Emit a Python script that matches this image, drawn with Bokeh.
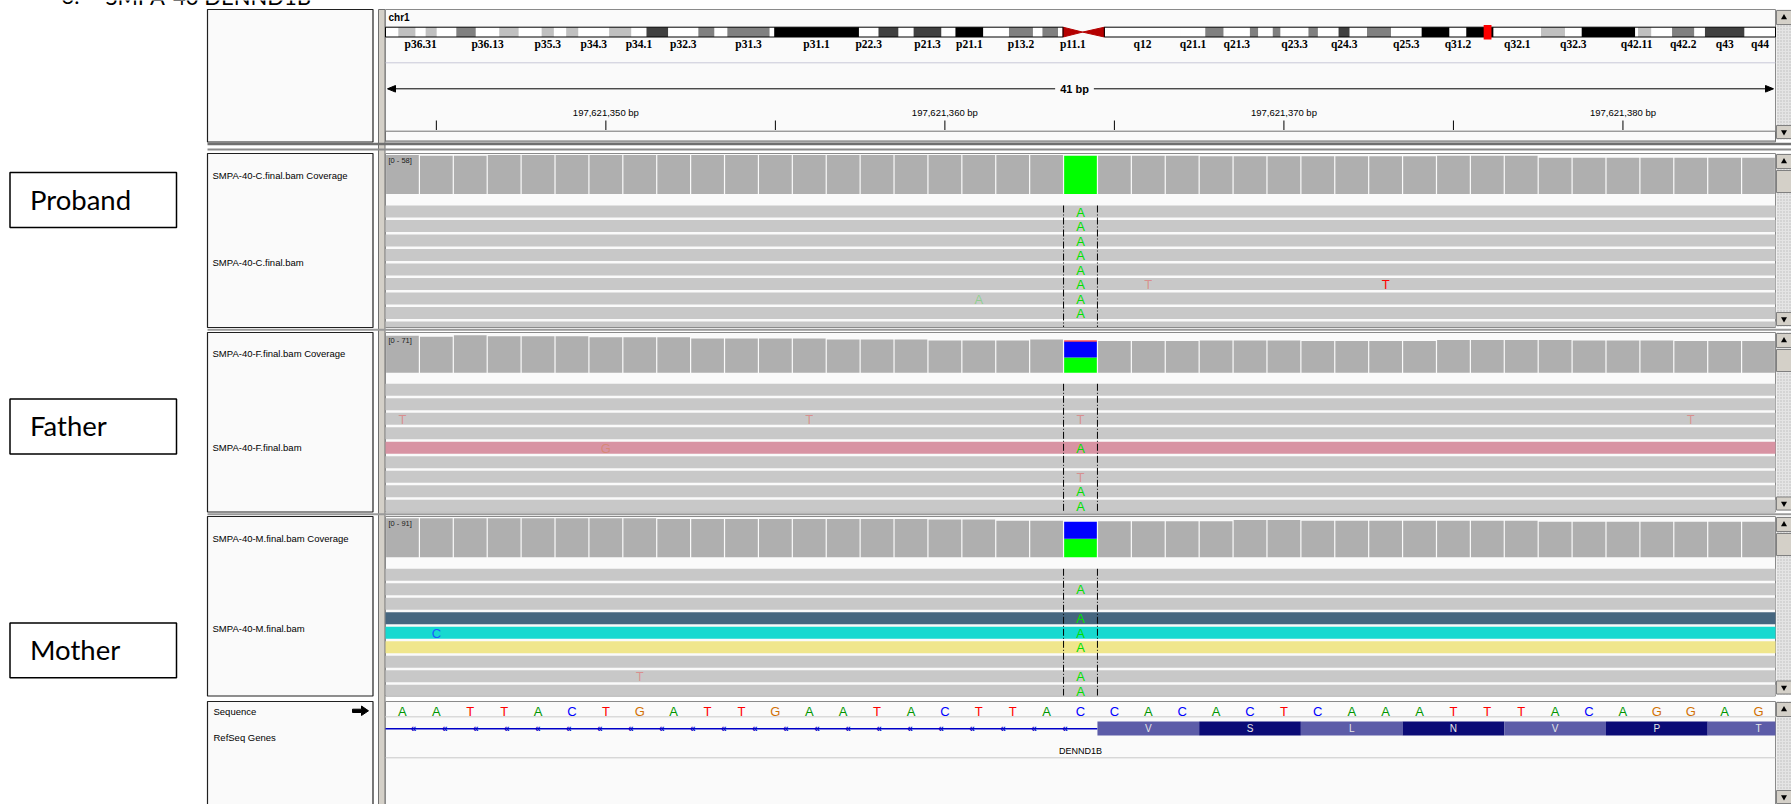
import numpy as np
from bokeh.plotting import figure
from bokeh.models import Range1d, Label
from bokeh.core.properties import value
from bokeh.embed import file_html
from bokeh.resources import INLINE

# ------------------------------------------------------------------ data
title_text = ["3.", "SMPA-40 DENND1B"]
chrom = "chr1"
chrom_length = 249250621
view_start = 197621344            # first base shown
view_bp = 41
sequence = ["A", "A", "T", "T", "A", "C", "T", "G", "A", "T", "T", "G", "A", "A", "T", "A", "C",
            "T", "T", "A", "C", "C", "A", "C", "A", "C", "T", "C", "A", "A", "A", "T", "T", "T",
            "A", "C", "A", "G", "G", "A", "G"]
variant_pos = 197621364
marker_pos = 197621364
tick_positions = [197621345, 197621350, 197621355, 197621360, 197621365, 197621370, 197621375, 197621380]
tick_labels = {197621350: "197,621,350 bp", 197621360: "197,621,360 bp",
               197621370: "197,621,370 bp", 197621380: "197,621,380 bp"}
ruler_text = "41 bp"

gene_name = "DENND1B"
cds_start = 197621365
amino_acids = ["V", "S", "L", "N", "V", "P", "T"]

sample_labels = ["Proband", "Father", "Mother"]
bam_names = ["SMPA-40-C.final.bam", "SMPA-40-F.final.bam", "SMPA-40-M.final.bam"]
cov_max = [58, 71, 91]
cov_proband = [58, 57, 57, 58, 58, 58, 58, 58, 58, 58, 58, 58, 58, 58, 58, 58, 58, 58, 58, 58, 57,
               57, 57, 57, 56, 56, 56, 56, 56, 56, 56, 57, 57, 57, 54, 54, 54, 54, 54, 54, 54]
cov_father = [70, 68, 71, 69, 69, 69, 67, 67, 67, 65, 65, 65, 65, 63, 63, 63, 61, 61, 61, 63, 61,
              60, 60, 60, 61, 61, 61, 60, 60, 60, 60, 62, 62, 62, 62, 61, 61, 61, 60, 60, 60]
cov_mother = [91, 91, 91, 91, 91, 91, 91, 91, 89, 89, 89, 89, 89, 89, 89, 89, 88, 88, 85, 85, 83,
              84, 84, 84, 84, 87, 87, 85, 85, 85, 85, 85, 85, 85, 83, 83, 83, 83, 83, 83, 83]
allele_order = ["A", "C", "T"]                      # stacked bottom -> top
variant_counts = [[57, 0, 0], [29, 30, 2], [43, 40, 0]]

# mismatches in reads: row index, base column (1-based), base, low quality
mm_proband_rows = [0, 1, 2, 3, 4, 5, 6, 7, 5, 5, 6]
mm_proband_cols = [21, 21, 21, 21, 21, 21, 21, 21, 23, 30, 18]
mm_proband_base = ["A", "A", "A", "A", "A", "A", "A", "A", "T", "T", "A"]
mm_proband_lowq = [0, 0, 0, 0, 0, 0, 0, 0, 1, 0, 1]
mm_father_rows = [2, 2, 2, 2, 4, 4, 6, 7, 8]
mm_father_cols = [1, 13, 21, 39, 7, 21, 21, 21, 21]
mm_father_base = ["T", "T", "T", "T", "G", "A", "T", "A", "A"]
mm_father_lowq = [1, 1, 1, 1, 1, 0, 1, 0, 0]
mm_mother_rows = [1, 3, 4, 4, 5, 7, 7, 8]
mm_mother_cols = [21, 21, 2, 21, 21, 8, 21, 21]
mm_mother_base = ["A", "A", "C", "A", "A", "T", "A", "A"]
mm_mother_lowq = [0, 0, 0, 0, 0, 1, 0, 0]
read_colors_father = {4: "#d893a3"}
read_colors_mother = {3: "#46667f", 4: "#17d9d0", 5: "#f0e68c"}

band_start = [0, 2300000, 5400000, 7200000, 9200000, 12700000, 16200000, 20400000, 23900000,
              28000000, 30200000, 32400000, 34600000, 40100000, 44100000, 46800000, 50700000,
              56100000, 59000000, 61300000, 68900000, 69700000, 84900000, 88400000, 92000000,
              94700000, 99700000, 102200000, 107200000, 111800000, 116100000, 117800000,
              120600000, 121500000, 125000000, 128900000, 142600000, 147000000, 150300000,
              155000000, 156500000, 159100000, 160500000, 165500000, 167200000, 170900000,
              172900000, 176000000, 180300000, 185800000, 190800000, 193800000, 198700000,
              207200000, 211500000, 214500000, 224100000, 224600000, 227000000, 230700000,
              234700000, 236600000, 243700000]
band_end = band_start[1:] + [chrom_length]
band_name = ["p36.33", "p36.32", "p36.31", "p36.23", "p36.22", "p36.21", "p36.13", "p36.12",
             "p36.11", "p35.3", "p35.2", "p35.1", "p34.3", "p34.2", "p34.1", "p33", "p32.3",
             "p32.2", "p32.1", "p31.3", "p31.2", "p31.1", "p22.3", "p22.2", "p22.1", "p21.3",
             "p21.2", "p21.1", "p13.3", "p13.2", "p13.1", "p12", "p11.2", "p11.1", "q11", "q12",
             "q21.1", "q21.2", "q21.3", "q22", "q23.1", "q23.2", "q23.3", "q24.1", "q24.2",
             "q24.3", "q25.1", "q25.2", "q25.3", "q31.1", "q31.2", "q31.3", "q32.1", "q32.2",
             "q32.3", "q41", "q42.11", "q42.12", "q42.13", "q42.2", "q42.3", "q43", "q44"]
band_stain = ["gneg", "gpos25", "gneg", "gpos25", "gneg", "gpos50", "gneg", "gpos25", "gneg",
              "gpos25", "gneg", "gpos25", "gneg", "gpos25", "gneg", "gpos75", "gneg", "gpos50",
              "gneg", "gpos50", "gneg", "gpos100", "gneg", "gpos75", "gneg", "gpos75", "gneg",
              "gpos100", "gneg", "gpos50", "gneg", "gpos50", "gneg", "acen", "acen", "gvar",
              "gneg", "gpos50", "gneg", "gpos50", "gneg", "gpos50", "gneg", "gpos50", "gneg",
              "gpos75", "gneg", "gpos50", "gneg", "gpos100", "gneg", "gpos100", "gneg", "gpos25",
              "gneg", "gpos100", "gneg", "gpos25", "gneg", "gpos50", "gneg", "gpos75", "gneg"]
shown_band_labels = ["p36.31", "p36.13", "p35.3", "p34.3", "p34.1", "p32.3", "p31.3", "p31.1",
                     "p22.3", "p21.3", "p21.1", "p13.2", "p11.1", "q12", "q21.1", "q21.3", "q23.3",
                     "q24.3", "q25.3", "q31.2", "q32.1", "q32.3", "q42.11", "q42.2", "q43", "q44"]

# ------------------------------------------------------------------ styling / layout
STAIN = {"gneg": "#ffffff", "gvar": "#ffffff", "gpos25": "#c0c0c0", "gpos50": "#808080",
         "gpos75": "#404040", "gpos100": "#000000"}
SEQ_COL = {"A": "#009600", "C": "#0000ff", "G": "#d17105", "T": "#ff0000"}
READ_COL = {"A": "#00e000", "C": "#1a5cff", "G": "#d17105", "T": "#ff0000"}
COV_COL = {"A": "#00ff00", "C": "#0000ff", "G": "#d17105", "T": "#ff0000"}
SANS = value("Liberation Sans")

W, H = 1791, 804
X0, X1, Y0, Y1 = 0, W, 0, H               # page coordinates covered by the figure
NX0, NX1 = 207, 372.5                     # name panel
DX0, DX1 = 385, 1775                      # data panel
SB0, SB1 = 1776, 1791                     # scrollbar

p = figure(width=W, height=H, x_range=Range1d(X0, X1), y_range=Range1d(Y1, Y0),
           output_backend="svg", toolbar_location=None, min_border=0,
           x_axis_location=None, y_axis_location=None)
p.grid.visible = False
p.outline_line_color = None
p.background_fill_color = "white"
p.border_fill_color = "white"

G0 = view_start - 0.5
G1 = view_start + view_bp - 0.5
bp_px = (DX1 - DX0) / (G1 - G0)
p.extra_x_ranges["g"] = Range1d(G0 - (DX0 - X0) / bp_px, G1 + (X1 - DX1) / bp_px)
chr_px = (DX1 - DX0) / chrom_length
p.extra_x_ranges["chr"] = Range1d(-(DX0 - X0) / chr_px, chrom_length + (X1 - DX1) / chr_px)


def scrollbar(top, bottom, thumb=True, up=True):
    p.quad(left=SB0, right=SB1, top=top, bottom=bottom, fill_color="#e4e4e4", line_color=None,
           hatch_pattern="dot", hatch_color="#bcbcbc", hatch_scale=3)
    if up:
        p.quad(left=SB0, right=SB1, top=top + 1, bottom=top + 15, fill_color="#d4d0c8",
               line_color="#808080")
        p.scatter([SB0 + 7.5], [top + 8], marker="triangle", size=6, fill_color="black",
                  line_color=None)
    if thumb:
        p.quad(left=SB0, right=SB1, top=top + 17, bottom=top + 39, fill_color="#d4d0c8",
               line_color="#808080")
    p.quad(left=SB0, right=SB1, top=bottom - 14, bottom=bottom - 1, fill_color="#d4d0c8",
           line_color="#808080")
    p.scatter([SB0 + 7.5], [bottom - 7.5], marker="inverted_triangle", size=6,
              fill_color="black", line_color=None)


def name_box(top, bottom):
    p.quad(left=NX0, right=NX1, top=top, bottom=bottom, fill_color="#fafafa",
           line_color="#202020", line_width=1.2)


def data_box(top, bottom):
    p.quad(left=DX0, right=DX1, top=top, bottom=bottom, fill_color="#fafafa",
           line_color="#8a8a8a", line_width=1)


# document heading, cut off by the top edge exactly as in the screenshot
p.text(x=[61, 105], y=[-4.5, -4.5], text=title_text, text_font=value("Lato"),
       text_font_size="22px", text_baseline="middle", text_color="black")

# divider between names and data
p.quad(left=373.5, right=377.5, top=9, bottom=804, fill_color="white", line_color=None)
p.quad(left=378, right=384.5, top=9, bottom=804, fill_color="#d4d0c8", line_color="#707070")

# ------------------------------------------------------------------ header (ideogram + ruler)
name_box(9, 141.5)
data_box(9, 141.5)
scrollbar(9, 139, thumb=False)
p.text(x=[DX0 + 3], y=[17], text=[chrom], text_font=SANS, text_font_size="10px",
       text_font_style="bold", text_baseline="middle", text_color="black")

IY0, IY1 = 26.7, 36.5
nonacen = [i for i, s in enumerate(band_stain) if s != "acen"]
p.quad(left=[band_start[i] for i in nonacen], right=[band_end[i] for i in nonacen],
       top=IY0, bottom=IY1, fill_color=[STAIN[band_stain[i]] for i in nonacen],
       line_color=None, x_range_name="chr")
acen = [i for i, s in enumerate(band_stain) if s == "acen"]
pa, qa = acen[0], acen[1]
ym = (IY0 + IY1) / 2
p.patches(xs=[[band_start[pa], band_start[pa], band_end[pa]],
              [band_start[qa], band_end[qa], band_end[qa]]],
          ys=[[IY0, IY1, ym], [ym, IY0, IY1]], fill_color="#b40000", line_color="#b40000",
          x_range_name="chr")
p.quad(left=[0, band_start[qa + 1]], right=[band_start[pa], chrom_length], top=IY0, bottom=IY1,
       fill_color=None, line_color="black", line_width=1, x_range_name="chr")
lab_idx = [band_name.index(n) for n in shown_band_labels]
p.text(x=[(band_start[i] + band_end[i]) / 2 for i in lab_idx], y=[43.5] * len(lab_idx),
       text=shown_band_labels, text_font=value("Liberation Serif"), text_font_size="11.5px",
       text_font_style="bold", text_align="center", text_baseline="middle", text_color="black",
       x_range_name="chr")
p.quad(left=[marker_pos - 700000], right=[marker_pos + 700000], top=24.5, bottom=39,
       fill_color="#ff0000", line_color=None, x_range_name="chr")
p.segment(x0=[DX0], x1=[DX1], y0=[62.3], y1=[62.3], line_color="#c8c8d8", line_width=1)

# ruler
p.segment(x0=[G0 + 0.08], x1=[G1 - 0.08], y0=[88.3], y1=[88.3], line_color="black",
          line_width=1, x_range_name="g")
p.patches(xs=[[DX0 + 2, DX0 + 10, DX0 + 10], [DX1 - 2, DX1 - 10, DX1 - 10]],
          ys=[[88.3, 85, 91.6], [88.3, 85, 91.6]], fill_color="black", line_color="black")
p.add_layout(Label(x=(DX0 + DX1) / 2 - 6, y=88.3, text=ruler_text, text_font="Liberation Sans",
                   text_font_size="11px", text_font_style="bold", text_align="center",
                   text_baseline="middle", background_fill_color="#fafafa",
                   padding=5, text_color="black"))
p.segment(x0=tick_positions, x1=tick_positions, y0=[120] * len(tick_positions),
          y1=[129.5] * len(tick_positions), line_color="black", line_width=1, x_range_name="g")
lp = list(tick_labels.keys())
p.text(x=lp, y=[111.7] * len(lp), text=[tick_labels[k] for k in lp], text_font=SANS,
       text_font_size="9.5px", text_align="center", text_baseline="middle", text_color="black",
       x_range_name="g")
p.quad(left=DX0, right=DX1, top=130.7, bottom=140.5, fill_color="#fafafa", line_color="#707070")

# separators between panels
p.quad(left=NX0, right=SB1, top=142.2, bottom=144.8, fill_color="#707070", line_color=None)
p.segment(x0=[NX0], x1=[SB1], y0=[149], y1=[149], line_color="#8c8c8c", line_width=2)

# ------------------------------------------------------------------ alignment panels
panels = [
    dict(top=153, bottom=327, cov_base=193.5, cov_top=154.5, read_top=205, box=(172, 227),
         cov_y=174.8, bam_y=261.6, cov=cov_proband, mm=(mm_proband_rows, mm_proband_cols,
         mm_proband_base, mm_proband_lowq), colors={}),
    dict(top=332, bottom=511.5, cov_base=372.3, cov_top=334.7, read_top=383.3, box=(398.6, 453.5),
         cov_y=353.2, bam_y=446.6, cov=cov_father, mm=(mm_father_rows, mm_father_cols,
         mm_father_base, mm_father_lowq), colors=read_colors_father),
    dict(top=516, bottom=695.5, cov_base=556.7, cov_top=517.7, read_top=568.3, box=(622.5, 677.3),
         cov_y=538.3, bam_y=628.3, cov=cov_mother, mm=(mm_mother_rows, mm_mother_cols,
         mm_mother_base, mm_mother_lowq), colors=read_colors_mother),
]
positions = [view_start + i for i in range(view_bp)]
ROW_PITCH, ROW_H = 14.5, 12.0

for si, pan in enumerate(panels):
    top, bottom = pan["top"], pan["bottom"]
    # sample label box on the far left
    b0, b1 = pan["box"]
    p.quad(left=9.5, right=176, top=b0, bottom=b1, fill_color="white", line_color="black",
           line_width=1.5)
    p.text(x=[29.5], y=[b0 + 26.5], text=[sample_labels[si]], text_font=value("Lato"),
           text_font_size="27.5px", text_baseline="middle", text_color="black")
    name_box(top, bottom)
    data_box(top, bottom)
    scrollbar(top, bottom - 1)
    p.text(x=[NX0 + 5, NX0 + 5], y=[pan["cov_y"], pan["bam_y"]],
           text=[bam_names[si] + " Coverage", bam_names[si]], text_font=SANS,
           text_font_size="9.5px", text_baseline="middle", text_color="black")

    # coverage track
    rname = "cov%d" % si
    k = (pan["cov_base"] - pan["cov_top"]) / cov_max[si]
    p.extra_y_ranges[rname] = Range1d(start=(pan["cov_base"] - Y1) / k,
                                      end=(pan["cov_base"] - Y0) / k)
    nonvar = [i for i in range(view_bp) if positions[i] != variant_pos]
    p.vbar(x=[positions[i] for i in nonvar], width=1 - 1.2 / bp_px, bottom=0,
           top=[pan["cov"][i] for i in nonvar], fill_color="#afafaf", line_color=None,
           x_range_name="g", y_range_name=rname)
    bottom_c = 0
    for a, c in zip(allele_order, variant_counts[si]):
        if c > 0:
            p.vbar(x=[variant_pos], width=1 - 1.2 / bp_px, bottom=bottom_c, top=bottom_c + c,
                   fill_color=COV_COL[a], line_color=None, x_range_name="g", y_range_name=rname)
        bottom_c += c
    p.text(x=[DX0 + 3], y=[pan["cov_top"] + 5], text=["[0 - %d]" % cov_max[si]], text_font=SANS,
           text_font_size="7.5px", text_baseline="middle", text_color="#202020")

    # reads
    nrows = int(np.ceil((bottom - pan["read_top"]) / ROW_PITCH))
    rt = [pan["read_top"] + r * ROW_PITCH for r in range(nrows)]
    rb = [min(t + ROW_H, bottom - 0.5) for t in rt]
    rc = [pan["colors"].get(r, "#c8c8c8") for r in range(nrows)]
    p.quad(left=G0, right=G1, top=rt, bottom=rb, fill_color=rc, line_color=None,
           x_range_name="g")
    rows, cols, bases, lowq = pan["mm"]
    keep = [j for j in range(len(rows)) if rt[rows[j]] + ROW_H / 2 < bottom - 2]
    p.text(x=[view_start + cols[j] - 1 for j in keep],
           y=[rt[rows[j]] + ROW_H / 2 + 0.5 for j in keep],
           text=[bases[j] for j in keep], text_color=[READ_COL[bases[j]] for j in keep],
           text_alpha=[0.3 if lowq[j] else 1.0 for j in keep], text_font=SANS,
           text_font_size="13px", text_align="center", text_baseline="middle",
           x_range_name="g")
    # dashed guide lines around the variant base
    p.segment(x0=[variant_pos - 0.5, variant_pos + 0.5], x1=[variant_pos - 0.5, variant_pos + 0.5],
              y0=[pan["read_top"]] * 2, y1=[bottom - 0.5] * 2, line_color="black",
              line_width=1, line_dash="7 2 1 2", x_range_name="g")
    # separator below panel
    if si < 2:
        p.segment(x0=[NX0], x1=[SB1], y0=[bottom + 2.3], y1=[bottom + 2.3],
                  line_color="#9a9a9a", line_width=2)

# ------------------------------------------------------------------ sequence + genes
ST = 701
name_box(ST, 812)
data_box(ST, 812)
scrollbar(ST, 804, thumb=False)
p.text(x=[NX0 + 6, NX0 + 6], y=[710.7, 737.3], text=["Sequence", "RefSeq Genes"],
       text_font=SANS, text_font_size="9.5px", text_baseline="middle", text_color="black")
p.patches(xs=[[352, 361, 361, 368, 361, 361, 352]], ys=[[708.7, 708.7, 705.5, 710.3, 715, 712, 712]],
          fill_color="black", line_color="black")
p.segment(x0=[DX0], x1=[DX1], y0=[716.3], y1=[716.3], line_color="#dadada", line_width=1.5)
p.segment(x0=[DX0], x1=[DX1], y0=[757.3], y1=[757.3], line_color="#c8c8c8", line_width=1)
p.text(x=positions, y=[711] * view_bp, text=sequence, text_color=[SEQ_COL[b] for b in sequence],
       text_font=SANS, text_font_size="13px", text_align="center", text_baseline="middle",
       x_range_name="g")

# gene: intron line with strand chevrons, coding exon with amino acids
p.segment(x0=[G0], x1=[cds_start - 0.5], y0=[728.3], y1=[728.3], line_color="#0000c8",
          line_width=1.5, x_range_name="g")
chev = np.arange(G0 + 0.83, cds_start - 0.9, 0.915)
p.text(x=chev, y=[728.3] * len(chev), text=["«"] * len(chev), text_color="#0000c8",
       text_font=SANS, text_font_size="10px", text_font_style="bold", text_align="center",
       text_baseline="middle", x_range_name="g")
aa_l = [cds_start - 0.5 + 3 * i for i in range(len(amino_acids))]
aa_r = [min(l + 3, G1) for l in aa_l]
aa_c = ["#5c5ca8" if i % 2 == 0 else "#0b0b76" for i in range(len(amino_acids))]
p.quad(left=aa_l, right=aa_r, top=721, bottom=735, fill_color=aa_c, line_color=None,
       x_range_name="g")
p.text(x=[l + 1.5 for l in aa_l], y=[728.3] * len(aa_l), text=amino_acids, text_color="#e6e6e6",
       text_font=SANS, text_font_size="10px", text_align="center", text_baseline="middle",
       x_range_name="g")
p.text(x=[variant_pos], y=[750.7], text=[gene_name], text_color="black", text_font=SANS,
       text_font_size="9px", text_align="center", text_baseline="middle", x_range_name="g")

open("out.html", "w").write(file_html(p, INLINE))
